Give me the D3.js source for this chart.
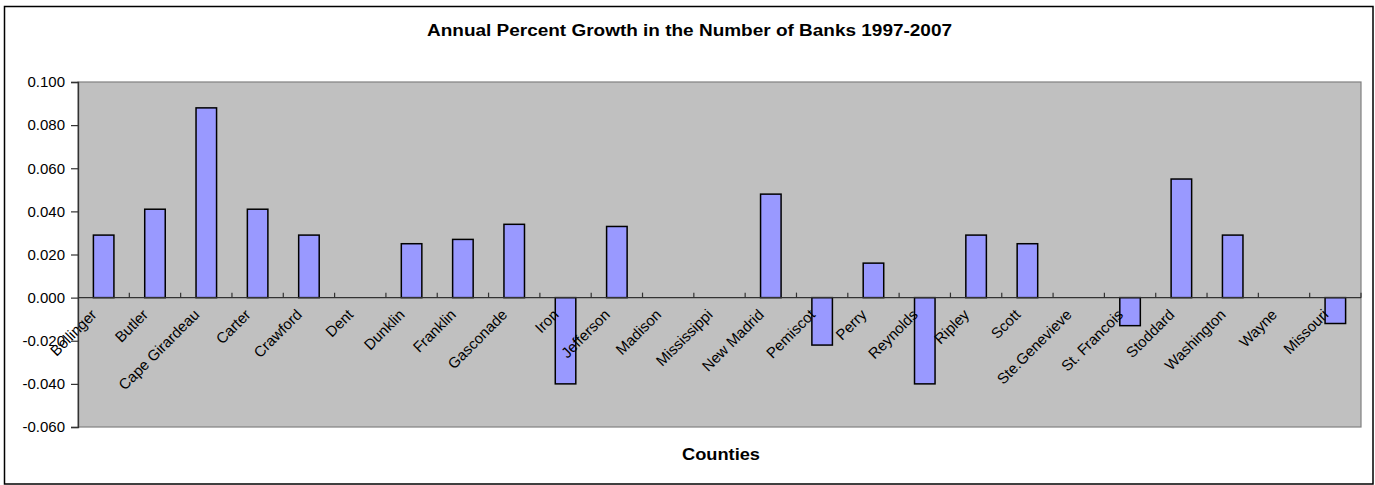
<!DOCTYPE html>
<html>
<head>
<meta charset="utf-8">
<script src="https://cdn.jsdelivr.net/npm/d3@7"></script>
<style>
  html, body { margin: 0; padding: 0; background: #fff; }
  svg text { font-family: "Liberation Sans", Arial, sans-serif; fill: #000; }
</style>
</head>
<body>
<svg id="chart" width="1375" height="485"></svg>
<script>
const categories = ["Bollinger", "Butler", "Cape Girardeau", "Carter", "Crawford", "Dent", "Dunklin",
  "Franklin", "Gasconade", "Iron", "Jefferson", "Madison", "Mississippi", "New Madrid", "Pemiscot",
  "Perry", "Reynolds", "Ripley", "Scott", "Ste.Genevieve", "St. Francois", "Stoddard", "Washington",
  "Wayne", "Missouri"];
const growth = [0.029, 0.041, 0.088, 0.041, 0.029, 0.000, 0.025, 0.027, 0.034, -0.040, 0.033, 0.000,
  0.000, 0.048, -0.022, 0.016, -0.040, 0.029, 0.025, 0.000, -0.013, 0.055, 0.029, 0.000, -0.012];
const yTicks = [-0.060, -0.040, -0.020, 0.000, 0.020, 0.040, 0.060, 0.080, 0.100];
const titleText = "Annual Percent Growth in the Number of Banks 1997-2007";
const xTitle = "Counties";

const svg = d3.select("#chart");
const plot = { left: 78, top: 82, right: 1361, bottom: 427 };

// outer chart border
svg.append("rect").attr("x", 4.5).attr("y", 6.5).attr("width", 1368.5).attr("height", 477.5)
  .attr("fill", "#fff").attr("stroke", "#000").attr("stroke-width", 1.5);

const x = d3.scaleBand().domain(categories).range([plot.left, plot.right]);
const y = d3.scaleLinear().domain([-0.06, 0.10]).range([plot.bottom, plot.top]);
const barW = x.bandwidth() / 2.5; // gap width 150%

// plot area
svg.append("rect").attr("x", plot.left).attr("y", plot.top)
  .attr("width", plot.right - plot.left).attr("height", plot.bottom - plot.top)
  .attr("fill", "#c0c0c0").attr("stroke", "#808080").attr("stroke-width", 1.2);

// bars
svg.append("g").selectAll("rect").data(growth).join("rect")
  .attr("x", (d, i) => x(categories[i]) + (x.bandwidth() - barW) / 2)
  .attr("width", barW)
  .attr("y", d => y(Math.max(0, d)))
  .attr("height", d => Math.abs(y(d) - y(0)))
  .attr("fill", "#9999ff").attr("stroke", "#000").attr("stroke-width", 1.5)
  .attr("display", d => d === 0 ? "none" : null);

// x axis at zero
const zeroY = y(0);
svg.append("line").attr("x1", plot.left).attr("x2", plot.right).attr("y1", zeroY).attr("y2", zeroY)
  .attr("stroke", "#333").attr("stroke-width", 1.3);
const tickPositions = categories.slice(1).map(c => x(c));
svg.append("g").selectAll("line").data(tickPositions.concat([plot.right])).join("line")
  .attr("x1", d => d).attr("x2", d => d).attr("y1", zeroY - 5).attr("y2", zeroY)
  .attr("stroke", "#333").attr("stroke-width", 1.2);

// category labels
svg.append("g").selectAll("text").data(categories).join("text")
  .attr("transform", c => `translate(${x(c) + x.bandwidth() / 2 - 6},${zeroY + 18}) rotate(-45)`)
  .attr("text-anchor", "end")
  .style("font-size", "15px")
  .text(c => c);

// y axis
const fmtLocale = d3.formatLocale({ decimal: ".", thousands: ",", grouping: [3], currency: ["", ""], minus: "-" });
const yAxis = d3.axisLeft(y).tickValues(yTicks).tickFormat(fmtLocale.format(".3f")).tickSize(7).tickPadding(6);
const gy = svg.append("g").attr("transform", `translate(${plot.left},0)`).call(yAxis);
gy.select(".domain").attr("stroke", "#333").attr("stroke-width", 1.3);
gy.selectAll(".tick line").attr("stroke", "#333").attr("stroke-width", 1.2);
gy.selectAll(".tick text").style("font-size", "15px").attr("font-family", null);

// titles
svg.append("text").attr("x", 689.5).attr("y", 36).attr("text-anchor", "middle")
  .attr("textLength", 525).attr("lengthAdjust", "spacingAndGlyphs")
  .style("font-size", "16px").style("font-weight", "bold").text(titleText);
svg.append("text").attr("x", 721).attr("y", 460).attr("text-anchor", "middle")
  .attr("textLength", 78).attr("lengthAdjust", "spacingAndGlyphs")
  .style("font-size", "16.5px").style("font-weight", "bold").text(xTitle);
</script>
</body>
</html>
